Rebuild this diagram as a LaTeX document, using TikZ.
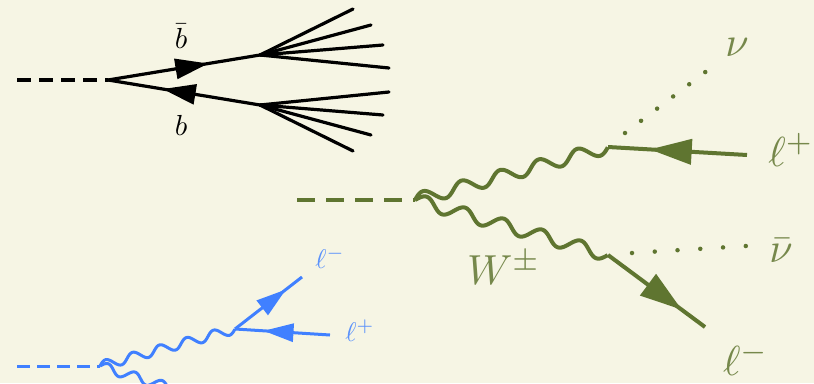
\documentclass[tikz,border=0pt]{standalone}
\usetikzlibrary{arrows.meta,calc,decorations.markings}
\definecolor{bgc}{HTML}{F6F5E4}
\definecolor{gc}{HTML}{5F7530}
\definecolor{bc}{HTML}{4080FF}
% sine wave from named coordinate #1 to named coordinate #2, amplitude #3 (pt), five periods
\newcommand{\wavyline}[3]{\draw let \p1=(#1),\p2=(#2),\n1={veclen(\x2-\x1,\y2-\y1)} in
  plot[variable=\t,domain=0:1,samples=161]
  ({\x1+(\x2-\x1)*\t-((\y2-\y1)/\n1)*#3*sin(1800*\t)},{\y1+(\y2-\y1)*\t+((\x2-\x1)/\n1)*#3*sin(1800*\t)});}
\tikzset{
  dsh/.style={dash pattern=on 14pt off 8pt},
  arrowat/.style n args={3}{postaction={decorate,decoration={markings,mark=at position #1 with {\arrow{Triangle[length=#2,width=#3]}}}}},
  lblbig/.style={inner sep=0pt,scale=4.2,text=gc!85!bgc},
  lblmid/.style={inner sep=0pt,scale=2.9,text=black},
  lblblue/.style={inner sep=0pt,scale=2.7,text=bc!85!bgc},
}
\begin{document}
\begin{tikzpicture}[x=1pt,y=-1pt,line join=round]
\useasboundingbox (0,0) rectangle (814,383);
\clip (0,0) rectangle (814,383);
\fill[bgc] (0,0) rectangle (814,383);

% black
\coordinate (k0) at (17,80);
\coordinate (k1) at (108,80);
\coordinate (ka) at (260,55);
\coordinate (kb) at (260,105);
\foreach \n/\x/\y in {a1/353/9,a2/371/25,a3/383/45,a4/389/68,b1/389/92,b2/383/115,b3/371/135,b4/353/151}
  \coordinate (\n) at (\x,\y);
\draw[line width=3.2pt,dsh] (k0) -- (k1);
\begin{scope}[line width=3.2pt,black]
\draw[arrowat={0.66}{33pt}{20pt}] (k1) -- (ka);
\draw[arrowat={0.64}{33pt}{20pt}] (kb) -- (k1);
\foreach \n in {a1,a2,a3,a4} \draw[line cap=round] (ka) -- (\n);
\foreach \n in {b1,b2,b3,b4} \draw[line cap=round] (kb) -- (\n);
\end{scope}
\node[lblmid] (bbar) at (181,36) {$\bar b$};
\node[lblmid] (bq) at (181,125) {$b$};

% green
\coordinate (g0) at (297,200);
\coordinate (g1) at (415,200);
\coordinate (g2) at (608,147);
\coordinate (g3) at (608,255);
\coordinate (lp) at (747,155);
\coordinate (lm) at (705,327);
\coordinate (n1) at (625,133);
\coordinate (n2) at (706,71.5);
\coordinate (nb1) at (632,253);
\coordinate (nb2) at (746,246);
\begin{scope}[gc,line width=4pt]
\draw[dash pattern=on 18pt off 11pt] (g0) -- (g1);
\wavyline{g1}{g2}{6.4}
\wavyline{g1}{g3}{6.4}
\draw[arrowat={0.70}{42pt}{25pt}] (lp) -- (g2);
\draw[arrowat={0.76}{42pt}{26pt}] (g3) -- (lm);
\draw[line cap=round,line width=4.5pt,dash pattern=on 0pt off 20.15pt] (n1) -- (n2);
\draw[line cap=round,line width=4.5pt,dash pattern=on 0pt off 22.8pt] (nb1) -- (nb2);
\end{scope}
\node[lblbig] (nu) at (737,47) {$\nu$};
\node[lblbig] (lplus) at (791,150) {$\ell^+$};
\node[lblbig] (nubar) at (781,251) {$\bar\nu$};
\node[lblbig] (lminus) at (746,359) {$\ell^-$};
\node[lblbig] (wpm) at (504,268) {$W^\pm$};

% blue
\coordinate (c0) at (17,366);
\coordinate (c1) at (100,366);
\coordinate (c2) at (235,329);
\coordinate (c3) at (235,408);
\coordinate (c4) at (302,277);
\coordinate (c5) at (330,335);
\begin{scope}[bc,line width=3pt]
\draw[dash pattern=on 12.5pt off 7.5pt] (c0) -- (c1);
\wavyline{c1}{c2}{4.6}
\wavyline{c1}{c3}{4.6}
\draw[arrowat={0.76}{30pt}{18pt}] (c2) -- (c4);
\draw[arrowat={0.70}{30pt}{18pt}] (c5) -- (c2);
\end{scope}
\node[lblblue] (blm) at (330,258) {$\ell^-$};
\node[lblblue] (blp) at (360,331) {$\ell^+$};
\end{tikzpicture}
\end{document}
